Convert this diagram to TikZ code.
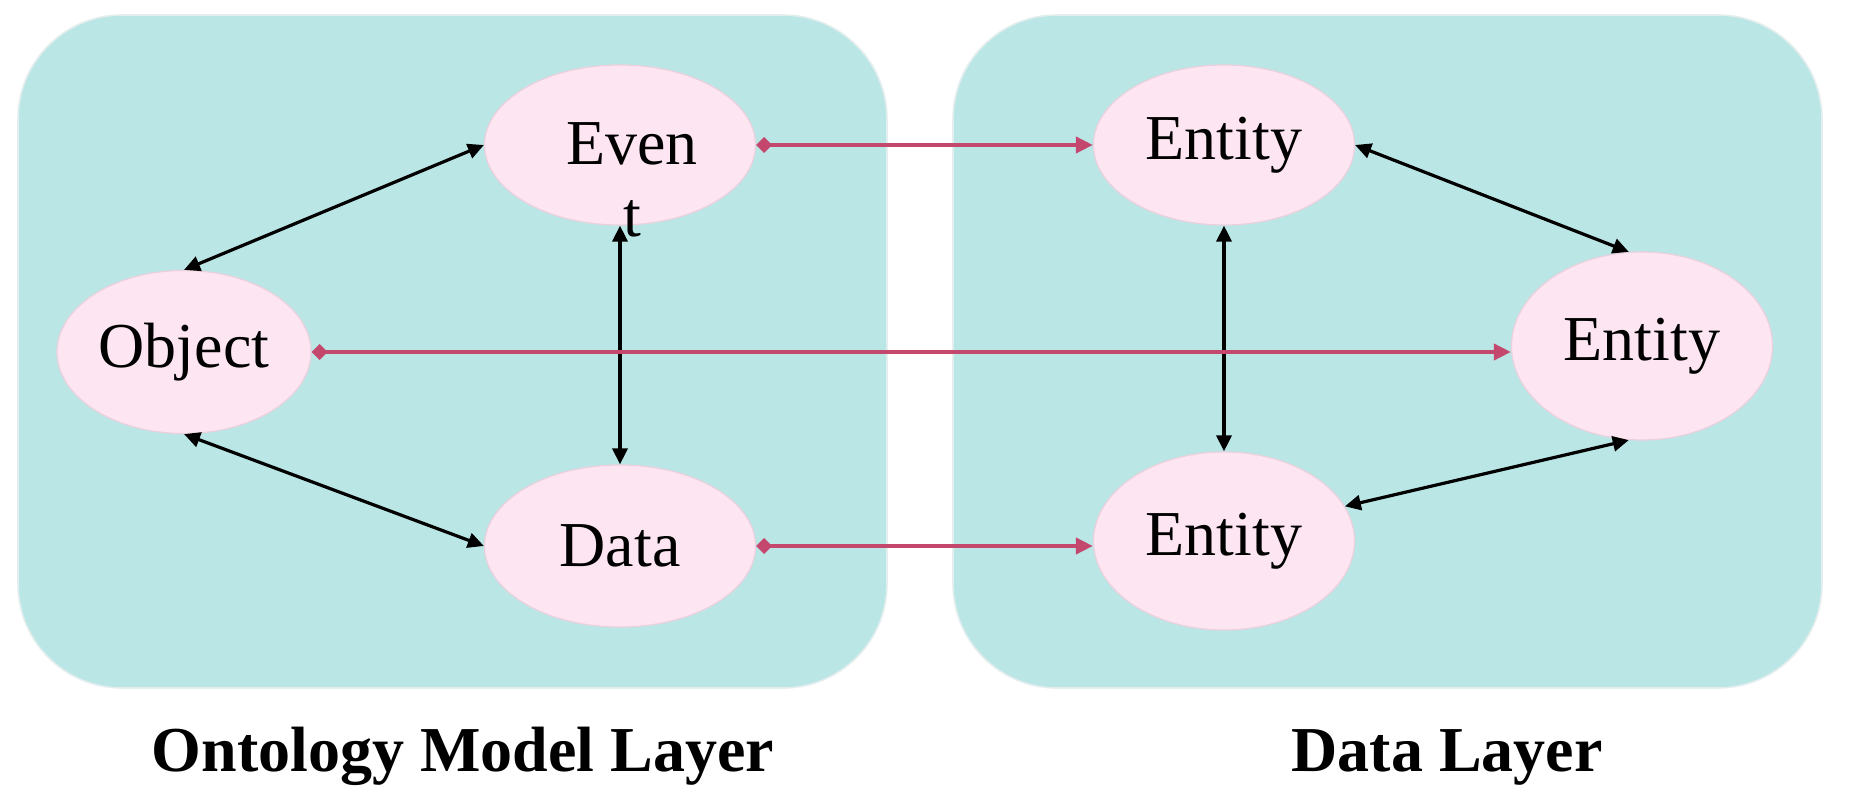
\documentclass[tikz,border=0pt]{standalone}
\usepackage{fontspec}
\setmainfont{Liberation Serif}
\usetikzlibrary{arrows.meta,shapes.geometric}
\definecolor{panel}{RGB}{187,230,230}
\definecolor{paneledge}{RGB}{228,238,238}
\definecolor{nodefill}{RGB}{253,230,242}
\definecolor{nodeedge}{RGB}{236,208,222}
\definecolor{linkpink}{RGB}{196,72,110}
\begin{document}
\begin{tikzpicture}[x=0.5pt,y=-0.5pt,
  panelbox/.style={fill=panel, draw=paneledge, line width=0.8pt, rounded corners=52pt},
  ent/.style={ellipse, fill=nodefill, draw=nodeedge, line width=0.6pt, inner sep=0pt,
    font=\fontsize{32}{36}\selectfont},
  txt/.style={inner sep=0pt, font=\fontsize{32}{36}\selectfont},
  blk/.style={draw=black, line width=1.6pt,
    {Triangle[length=8pt,width=7.5pt]}-{Triangle[length=8pt,width=7.5pt]}},
  pnk/.style={draw=linkpink, line width=1.9pt,
    {Diamond[length=8pt,width=8pt]}-{Triangle[length=8.5pt,width=8pt]}},
  layercap/.style={inner sep=0pt, anchor=base, font=\fontsize{32}{36}\selectfont\bfseries}]
\useasboundingbox (0,0) rectangle (1854,801);
\fill[white] (0,0) rectangle (1854,801);
% panels
\path[panelbox] (18,15) rectangle (887,688);
\path[panelbox] (953,15) rectangle (1822,688);
% nodes
\node[ent, minimum width=135.5pt, minimum height=80pt] (event) at (620,145) {};
\node[txt, align=center, anchor=north] (eventtxt) at (632,122) {Even\\t};
\node[ent, minimum width=127pt, minimum height=81.5pt] (object) at (184,352) {Object};
\node[ent, minimum width=135.5pt, minimum height=81pt] (data) at (620,546) {Data};
\node[ent, minimum width=130.5pt, minimum height=80pt] (enttop) at (1224,145) {Entity};
\node[ent, minimum width=130.5pt, minimum height=94pt] (entright) at (1642,346) {Entity};
\node[ent, minimum width=130.5pt, minimum height=89pt] (entbot) at (1224,541) {Entity};
% black connectors
\draw[blk] (event.west) -- (object.north);
\draw[blk] (object.south) -- (data.west);
\draw[blk] (event.south) -- (data.north);
\draw[blk] (enttop.east) -- (entright.98);
\draw[blk] (enttop.south) -- (entbot.north);
\draw[blk] (entbot.16) -- (entright.262);
% pink connectors
\draw[pnk] (event.east) -- (enttop.west);
\draw[pnk] (object.east) -- (object.east -| entright.west);
\draw[pnk] (data.east) -- (data.east -| entbot.west);
% captions
\node[layercap] (cap1) at (463,772) {Ontology Model Layer};
\node[layercap] (cap2) at (1447,772) {Data Layer};
\end{tikzpicture}
\end{document}
